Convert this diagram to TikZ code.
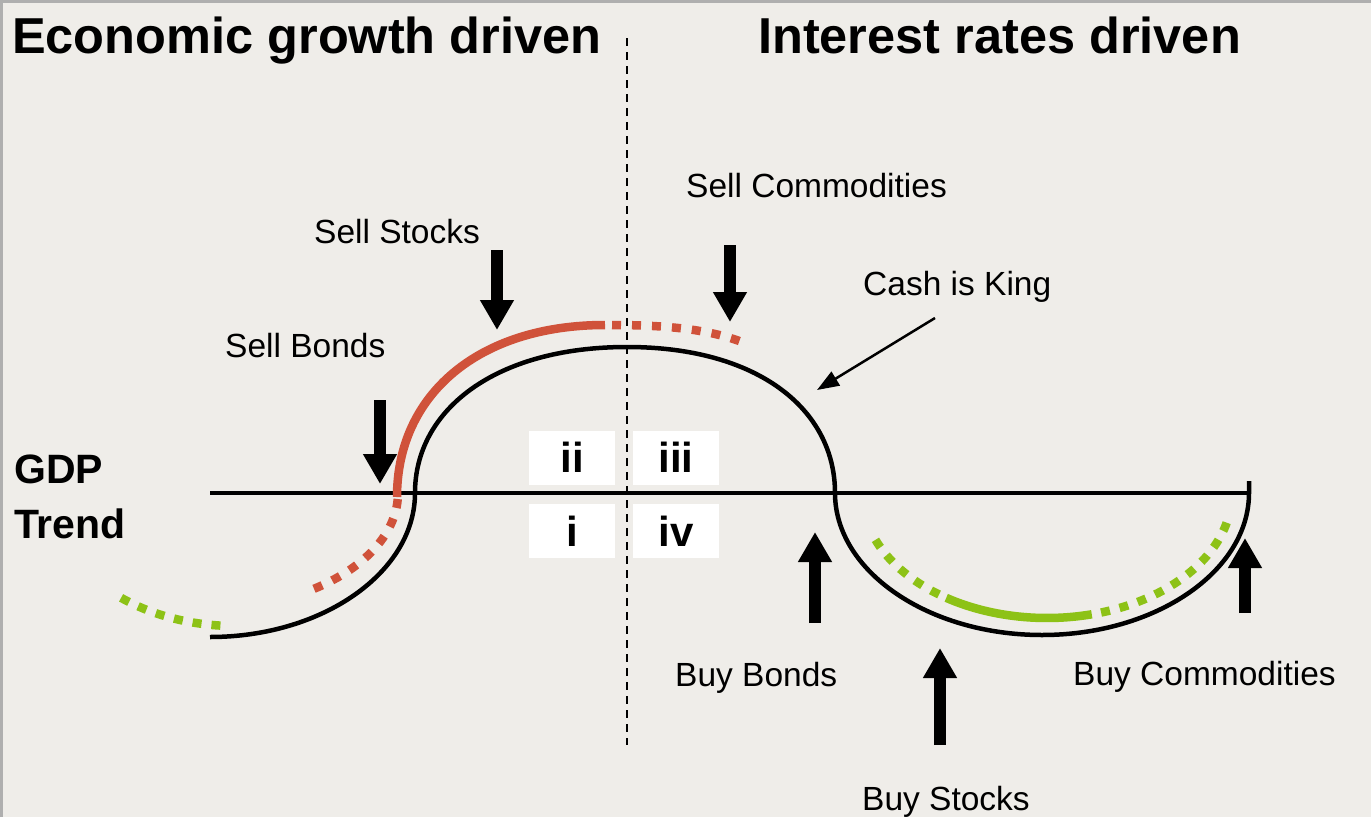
\documentclass[tikz,border=0pt]{standalone}
\usepackage{fontspec}
\setmainfont{Liberation Sans}
\usetikzlibrary{arrows.meta}
\definecolor{bg}{RGB}{239,237,233}
\definecolor{redc}{RGB}{208,82,58}
\definecolor{greenc}{RGB}{141,194,22}
\definecolor{edgec}{RGB}{175,175,175}
\begin{document}
\begin{tikzpicture}[x=1pt,y=-1pt,
  curve/.style={line width=4.5pt,black},
  bigarrow/.style={line width=12pt,-{Triangle[length=30pt,width=32pt]}},
  thinarrow/.style={line width=2.5pt,-{Triangle[length=22pt,width=16pt]}},
  lbl/.style={font=\fontsize{33.5}{40}\selectfont,anchor=base west,inner sep=0pt},
  ttl/.style={font=\bfseries\fontsize{50.5}{60}\selectfont,anchor=base west,inner sep=0pt},
  gdp/.style={font=\bfseries\fontsize{41}{48}\selectfont,anchor=base west,inner sep=0pt},
  numbox/.style={fill=white,minimum width=86pt,minimum height=54pt,inner sep=0pt,font=\bfseries\fontsize{42}{48}\selectfont},
  redsolid/.style={redc,line width=8.5pt},
  reddot/.style={redc,line width=8.5pt,dash pattern=on 9pt off 11pt},
  greensolid/.style={greenc,line width=8.5pt},
  greendot/.style={greenc,line width=8.5pt,dash pattern=on 9pt off 10pt},
  divider/.style={line width=2.6pt,dash pattern=on 8pt off 6pt}]
\useasboundingbox (0,0) rectangle (1371,817);
\fill[bg] (0,0) rectangle (1371,817);
\draw[edgec,line width=3pt] (1.5,817) -- (1.5,1.5) -- (1371,1.5);

% titles
\node[ttl] (t1) at (12,53) {Economic growth driven};
\node[ttl] (t2) at (758,53) {Interest rates driven};
\node[gdp] (gdp) at (14,483) {GDP};
\node[gdp] (trend) at (14,538) {Trend};

% quadrant boxes
\node[numbox] (q2) at (572,457.5) {ii};
\node[numbox] (q3) at (676,457.5) {iii};
\node[numbox] (q1) at (572,531) {i};
\node[numbox] (q4) at (676,531) {iv};

% divider and trend line
\coordinate (dtop) at (627,38);
\coordinate (dbot) at (627,745);
\draw[divider] (dtop) -- (dbot);
\coordinate (tl) at (210,493);
\coordinate (tr) at (1250,493);
\draw[curve] (tl) -- (tr);

% colored overlays
\draw[greendot] plot[domain=128:92,samples=30] ({235+185*cos(\x)},{493+133*sin(\x)});
\draw[reddot] plot[domain=3:57,samples=30] ({210+188*cos(\x)},{493+115*sin(\x)});
\draw[redsolid] (397,497) .. controls (397,395) and (478,325) .. (605,325);
\draw[reddot] (612,325) .. controls (670,325) and (710,330) .. (742,342);
\draw[greendot] plot[domain=158:124,samples=30] ({1047+185*cos(\x)},{493+125*sin(\x)});
\draw[greensolid] plot[domain=123:76,samples=30] ({1047+185*cos(\x)},{493+125*sin(\x)});
\draw[greendot] plot[domain=73:13,samples=40] ({1047+185*cos(\x)},{493+125*sin(\x)});

% main cycle curve
\draw[curve] (210,637) .. controls (323,637) and (415,572) .. (415,493)
  .. controls (415,410) and (495,347) .. (627,347)
  .. controls (759,347) and (835,410) .. (835,493)
  .. controls (835,571) and (928,635) .. (1042,635)
  .. controls (1156,635) and (1249,571) .. (1249,493) -- (1249,481);

% labels
\node[lbl] (ss) at (314,243) {Sell Stocks};
\node[lbl] (sb) at (225,357) {Sell Bonds};
\node[lbl] (sc) at (686,197) {Sell Commodities};
\node[lbl] (ck) at (863,295) {Cash is King};
\node[lbl] (bb) at (675,686) {Buy Bonds};
\node[lbl] (bs) at (862,810) {Buy Stocks};
\node[lbl] (bc) at (1073,685) {Buy Commodities};

% arrows
\coordinate (sbA) at (380,400); \coordinate (sbB) at (380,484);
\coordinate (ssA) at (497,250); \coordinate (ssB) at (497,330);
\coordinate (scA) at (730,245); \coordinate (scB) at (730,322);
\coordinate (bbA) at (815,623); \coordinate (bbB) at (815,532);
\coordinate (bsA) at (940,745); \coordinate (bsB) at (940,648);
\coordinate (bcA) at (1245,613); \coordinate (bcB) at (1245,538);
\coordinate (ckA) at (935,318); \coordinate (ckB) at (817,390);
\draw[bigarrow] (sbA) -- (sbB);
\draw[bigarrow] (ssA) -- (ssB);
\draw[bigarrow] (scA) -- (scB);
\draw[bigarrow] (bbA) -- (bbB);
\draw[bigarrow] (bsA) -- (bsB);
\draw[bigarrow] (bcA) -- (bcB);
\draw[thinarrow] (ckA) -- (ckB);
\end{tikzpicture}
\end{document}
